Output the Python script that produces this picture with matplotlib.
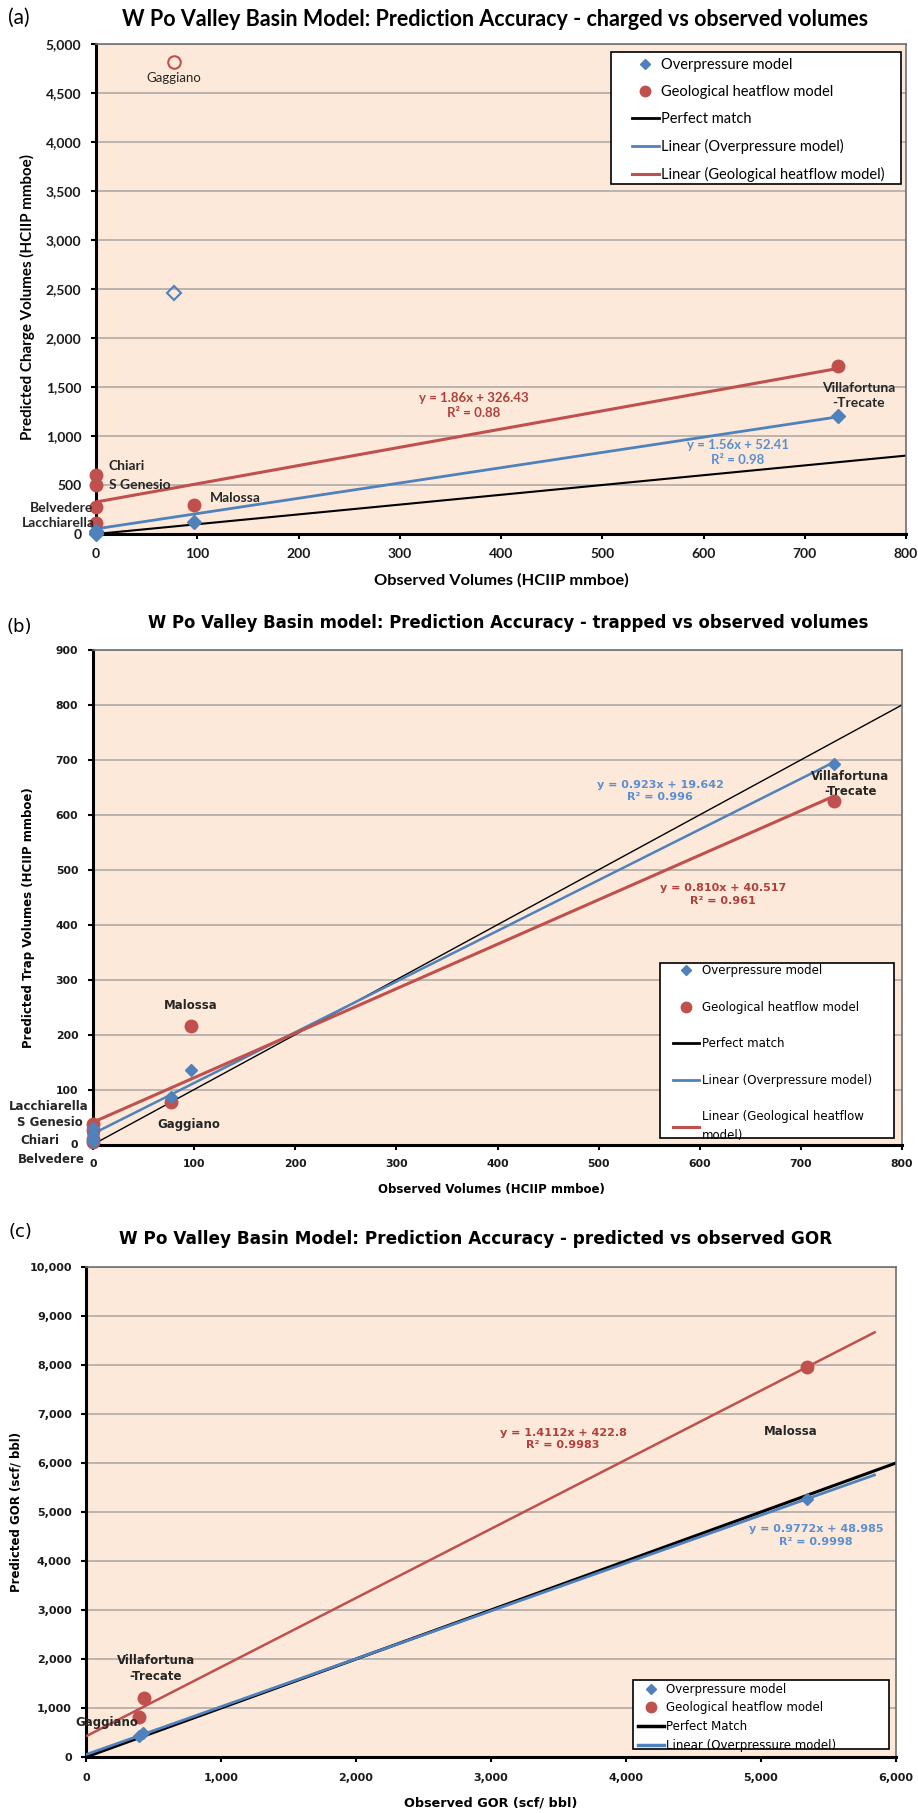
import matplotlib
matplotlib.use("Agg")
import matplotlib.pyplot as plt
from matplotlib.ticker import FuncFormatter, MultipleLocator
from matplotlib.lines import Line2D
from matplotlib.patches import Rectangle

BG = "#FDE9D9"
BLUE = "#4F81BD"
RED = "#C0504D"
BLUE_TXT = "#5B8FD0"
RED_TXT = "#B0403C"
GRID = "#A6A6A6"

# ---------------- data ----------------
# (a) charged vs observed volumes (HCIIP mmboe)
a_op_obs = [733, 97, 0, 0, 0]
a_op_pred = [1200, 125, 30, 15, 0]
a_op_excl_obs = [77]
a_op_excl_pred = [2460]
a_hf_obs = [733, 97, 0, 0, 0, 0]
a_hf_pred = [1715, 300, 600, 500, 280, 110]
a_hf_excl_obs = [77]
a_hf_excl_pred = [4820]
a_op_fit = [1.56, 52.41]
a_hf_fit = [1.86, 326.43]
a_op_r2 = "0.98"
a_hf_r2 = "0.88"
a_fit_range = [0, 733]
a_perfect = [0, 800]

# (b) trapped vs observed volumes (HCIIP mmboe)
b_op_obs = [733, 97, 77, 0, 0, 0, 0]
b_op_pred = [693, 135, 87, 30, 20, 10, 5]
b_hf_obs = [733, 97, 77, 0, 0, 0, 0]
b_hf_pred = [625, 215, 77, 38, 27, 10, 5]
b_op_fit = [0.923, 19.642]
b_hf_fit = [0.810, 40.517]
b_op_r2 = "0.996"
b_hf_r2 = "0.961"
b_fit_range = [0, 733]
b_perfect = [0, 800]

# (c) predicted vs observed GOR (scf/bbl)
c_op_obs = [5340, 390, 420]
c_op_pred = [5270, 430, 500]
c_hf_obs = [5340, 430, 390]
c_hf_pred = [7960, 1200, 820]
c_op_fit = [0.9772, 48.985]
c_hf_fit = [1.4112, 422.8]
c_op_r2 = "0.9998"
c_hf_r2 = "0.9983"
c_fit_range = [0, 5850]
c_perfect = [0, 6000]

legend_ab = ["Overpressure model", "Geological heatflow model", "Perfect match",
             "Linear (Overpressure model)", "Linear (Geological heatflow model)"]
legend_c = ["Overpressure model", "Geological heatflow model", "Perfect Match",
            "Linear (Overpressure model)"]

titles = ["W Po Valley Basin Model: Prediction Accuracy - charged vs observed volumes",
          "W Po Valley Basin model: Prediction Accuracy - trapped vs observed volumes",
          "W Po Valley Basin Model: Prediction Accuracy - predicted vs observed GOR"]
xlabels = ["Observed Volumes (HCIIP mmboe)", "Observed Volumes (HCIIP mmboe)",
           "Observed GOR (scf/ bbl)"]
ylabels = ["Predicted Charge Volumes (HCIIP mmboe)", "Predicted Trap Volumes (HCIIP mmboe)",
           "Predicted GOR (scf/ bbl)"]

# ---------------- figure ----------------
W, H = 918, 1813
fig = plt.figure(figsize=(W / 100, H / 100), dpi=100)
fig.patch.set_facecolor("white")


def fx(px):
    return px / W


def fy(py):
    return 1 - py / H


def px_axes(l, t, r, b):
    return fig.add_axes([l / W, 1 - b / H, (r - l) / W, (b - t) / H])


def style(ax, xlim, ylim, xstep, ystep, fam, tfs, comma, xpad, ypad):
    ax.set_facecolor(BG)
    ax.set_xlim(*xlim)
    ax.set_ylim(*ylim)
    ax.xaxis.set_major_locator(MultipleLocator(xstep))
    ax.yaxis.set_major_locator(MultipleLocator(ystep))
    if comma:
        fmt = FuncFormatter(lambda v, p: f"{int(round(v)):,}")
        ax.xaxis.set_major_formatter(fmt)
        ax.yaxis.set_major_formatter(fmt)
    ax.yaxis.grid(True, color=GRID, lw=1.1)
    ax.set_axisbelow(True)
    for s in ("left", "bottom"):
        ax.spines[s].set_color("black")
        ax.spines[s].set_linewidth(2.2)
    for s in ("top", "right"):
        ax.spines[s].set_color("#6F6F6F")
        ax.spines[s].set_linewidth(1.2)
    ax.tick_params(axis="both", direction="out", length=3.6, width=1.5, color="black",
                   labelsize=tfs)
    ax.tick_params(axis="x", pad=xpad)
    ax.tick_params(axis="y", pad=ypad)
    for lab in ax.get_xticklabels() + ax.get_yticklabels():
        lab.set_fontweight("bold")
        lab.set_family(fam)
        lab.set_color("#1A1A1A")


def fit_line(ax, fit, rng, color, lw):
    xs = list(rng)
    ys = [fit[0] * x + fit[1] for x in xs]
    ax.plot(xs, ys, color=color, lw=lw, solid_capstyle="butt", zorder=3)


def handles(n_fit, dms=5, cms=7):
    hs = [Line2D([], [], ls="none", marker="D", ms=dms, color=BLUE),
          Line2D([], [], ls="none", marker="o", ms=cms, color=RED),
          Line2D([], [], color="black", lw=2),
          Line2D([], [], color=BLUE, lw=2)]
    if n_fit == 2:
        hs.append(Line2D([], [], color=RED, lw=2.2))
    return hs


def legend_box(ax, hs, labels, box, anchor, fam, size, lsp, hl, htp):
    l, t, r, b = box
    rect = Rectangle((fx(l), fy(b)), (r - l) / W, (b - t) / H, transform=fig.transFigure,
                     facecolor="white", edgecolor="black", lw=1.2, zorder=6)
    ax.add_artist(rect)
    rect.set_clip_on(False)
    leg = ax.legend(hs, labels, loc="upper left", bbox_to_anchor=(fx(anchor[0]), fy(anchor[1])),
                    bbox_transform=fig.transFigure, borderaxespad=0, borderpad=0,
                    frameon=False, prop=dict(family=fam, size=size), labelspacing=lsp,
                    handlelength=hl, handletextpad=htp)
    leg.set_zorder(7)
    return leg


# ===== Panel (a) =====
FA = "Lato"
ax = px_axes(96, 44, 906, 534)
style(ax, (0, 800), (0, 5000), 100, 500, FA, 10, True, 6.5, 7)
ax.plot(a_perfect, a_perfect, color="black", lw=1.5, zorder=2)
fit_line(ax, a_op_fit, a_fit_range, BLUE, 2.0)
fit_line(ax, a_hf_fit, a_fit_range, RED, 2.2)
ax.plot(a_op_obs, a_op_pred, ls="none", marker="D", ms=7, color=BLUE, zorder=5, clip_on=False)
ax.plot(a_hf_obs, a_hf_pred, ls="none", marker="o", ms=9, color=RED, zorder=4, clip_on=False)
ax.plot(a_op_excl_obs, a_op_excl_pred, ls="none", marker="D", ms=7, mfc="none",
        mec=BLUE, mew=1.5, zorder=5)
ax.plot(a_hf_excl_obs, a_hf_excl_pred, ls="none", marker="o", ms=9, mfc="none",
        mec=RED, mew=1.5, zorder=5)
lk = dict(family=FA, fontweight="bold", fontsize=10, color="#262626", zorder=6)
ax.text(77, 4655, "Gaggiano", family=FA, fontsize=9.5, color="#262626", ha="center", va="center")
ax.text(12, 697, "Chiari", ha="left", va="center", **lk)
ax.text(13, 500, "S Genesio", ha="left", va="center", **lk)
ax.text(-3, 270, "Belvedere", ha="right", va="center", **lk)
ax.text(-1, 115, "Lacchiarella", ha="right", va="center", **lk)
ax.text(112, 367, "Malossa", ha="left", va="center", **lk)
ax.text(753, 1410, "Villafortuna\n-Trecate", ha="center", va="center", linespacing=1.3, **lk)
ax.text(373, 1312, f"y = {a_hf_fit[0]:.2f}x + {a_hf_fit[1]:.2f}\nR\u00b2 = {a_hf_r2}",
        ha="center", va="center", family=FA, fontweight="bold", fontsize=9.5,
        color=RED_TXT, linespacing=1.3)
ax.text(634, 834, f"y = {a_op_fit[0]:.2f}x + {a_op_fit[1]:.2f}\nR\u00b2 = {a_op_r2}",
        ha="center", va="center", family=FA, fontweight="bold", fontsize=9.5,
        color=BLUE_TXT, linespacing=1.3)
legend_box(ax, handles(2, 5, 7.5), legend_ab, (611, 52, 901, 184), (632, 58), FA, 10.5,
           0.89, 1.85, 0.12)
fig.text(fx(8), fy(18), "(a)", family=FA, fontsize=15, va="center", ha="left")
fig.text(fx(495), fy(19), titles[0], family=FA, fontsize=15.5, fontweight="bold",
         va="center", ha="center")
fig.text(fx(501), fy(580), xlabels[0], family=FA, fontsize=11.8, fontweight="bold",
         va="center", ha="center")
fig.text(fx(27), fy(297), ylabels[0], family=FA, fontsize=10.9, fontweight="bold",
         va="center", ha="center", rotation=90)

# ===== Panel (b) =====
FB = "DejaVu Sans"
ax = px_axes(93, 650, 902, 1144.5)
style(ax, (0, 800), (0, 900), 100, 100, FB, 7.8, False, 6.5, 7)
ax.plot(b_perfect, b_perfect, color="black", lw=1.0, zorder=2)
fit_line(ax, b_op_fit, b_fit_range, BLUE, 1.8)
fit_line(ax, b_hf_fit, b_fit_range, RED, 2.2)
ax.plot(b_hf_obs, b_hf_pred, ls="none", marker="o", ms=9, color=RED, zorder=4, clip_on=False)
ax.plot(b_op_obs, b_op_pred, ls="none", marker="D", ms=6.5, color=BLUE, zorder=5, clip_on=False)
lk = dict(family=FB, fontweight="bold", fontsize=8.5, color="#262626", zorder=6, clip_on=False)
ax.text(97, 253, "Malossa", ha="center", va="center", **lk)
ax.text(95, 36, "Gaggiano", ha="center", va="center", **lk)
ax.text(-4, 69, "Lacchiarella", ha="right", va="center", **lk)
ax.text(-10, 40, "S Genesio", ha="right", va="center", **lk)
ax.text(-33, 8, "Chiari", ha="right", va="center", **lk)
ax.text(-41, -28, "Belvedere", ha="center", va="center", **lk)
ax.text(749, 656, "Villafortuna\n-Trecate", ha="center", va="center", linespacing=1.25, **lk)
ax.text(561, 643, f"y = {b_op_fit[0]:.3f}x + {b_op_fit[1]:.3f}\nR\u00b2 = {b_op_r2}",
        ha="center", va="center", family=FB, fontweight="bold", fontsize=8,
        color=BLUE_TXT, linespacing=1.3)
ax.text(623, 455, f"y = {b_hf_fit[0]:.3f}x + {b_hf_fit[1]:.3f}\nR\u00b2 = {b_hf_r2}",
        ha="center", va="center", family=FB, fontweight="bold", fontsize=8,
        color=RED_TXT, linespacing=1.3)
leg_b = list(legend_ab)
leg_b[4] = "Linear (Geological heatflow\nmodel)"
leg = legend_box(ax, handles(2, 5, 7.5), leg_b, (660, 962.6, 894, 1138), (673, 964.4), FB, 8.5,
                 1.99, 2.2, 0.23)
leg.get_texts()[4].set_linespacing(1.55)
fig.text(fx(7), fy(627), "(b)", family=FB, fontsize=13, va="center", ha="left")
fig.text(fx(508), fy(623), titles[1], family=FB, fontsize=11.9, fontweight="bold",
         va="center", ha="center")
fig.text(fx(491), fy(1190), xlabels[1], family=FB, fontsize=8.5, fontweight="bold",
         va="center", ha="center")
fig.text(fx(29), fy(918), ylabels[1], family=FB, fontsize=8.5, fontweight="bold",
         va="center", ha="center", rotation=90)

# ===== Panel (c) =====
ax = px_axes(86, 1267, 896, 1757)
style(ax, (0, 6000), (0, 10000), 1000, 1000, FB, 8, True, 8, 6.5)
ax.plot(c_perfect, c_perfect, color="black", lw=2.2, zorder=2)
fit_line(ax, c_op_fit, c_fit_range, BLUE, 2.0)
fit_line(ax, c_hf_fit, c_fit_range, RED, 1.8)
ax.plot(c_hf_obs, c_hf_pred, ls="none", marker="o", ms=9, color=RED, zorder=4)
ax.plot(c_op_obs, c_op_pred, ls="none", marker="D", ms=6, color=BLUE, zorder=5)
lk = dict(family=FB, fontweight="bold", fontsize=8.5, color="#262626", zorder=6)
ax.text(5222, 6645, "Malossa", ha="center", va="center", **lk)
ax.text(516, 1810, "Villafortuna\n-Trecate", ha="center", va="center", linespacing=1.3, **lk)
ax.text(155, 714, "Gaggiano", ha="center", va="center", **lk)
ax.text(3533, 6484, f"y = {c_hf_fit[0]:.4f}x + {c_hf_fit[1]:.1f}\nR\u00b2 = {c_hf_r2}",
        ha="center", va="center", family=FB, fontweight="bold", fontsize=8,
        color=RED_TXT, linespacing=1.3)
ax.text(5407, 4520, f"y = {c_op_fit[0]:.4f}x + {c_op_fit[1]:.3f}\nR\u00b2 = {c_op_r2}",
        ha="center", va="center", family=FB, fontweight="bold", fontsize=8,
        color=BLUE_TXT, linespacing=1.3)
hc = handles(1, 5, 7.5)
hc[2] = Line2D([], [], color="black", lw=2.5)
hc[3] = Line2D([], [], color=BLUE, lw=2.5)
legend_box(ax, hc, legend_c, (632.7, 1680, 889, 1749), (638, 1682.8), FB, 8.5,
           0.48, 2.2, 0.14)
fig.text(fx(8), fy(1232), "(c)", family=FB, fontsize=13, va="center", ha="left")
fig.text(fx(475.5), fy(1239), titles[2], family=FB, fontsize=12.2, fontweight="bold",
         va="center", ha="center")
fig.text(fx(491), fy(1803), xlabels[2], family=FB, fontsize=9.2, fontweight="bold",
         va="center", ha="center")
fig.text(fx(16), fy(1512), ylabels[2], family=FB, fontsize=8.5, fontweight="bold",
         va="center", ha="center", rotation=90)

fig.savefig("out.png", dpi=100, facecolor="white")
